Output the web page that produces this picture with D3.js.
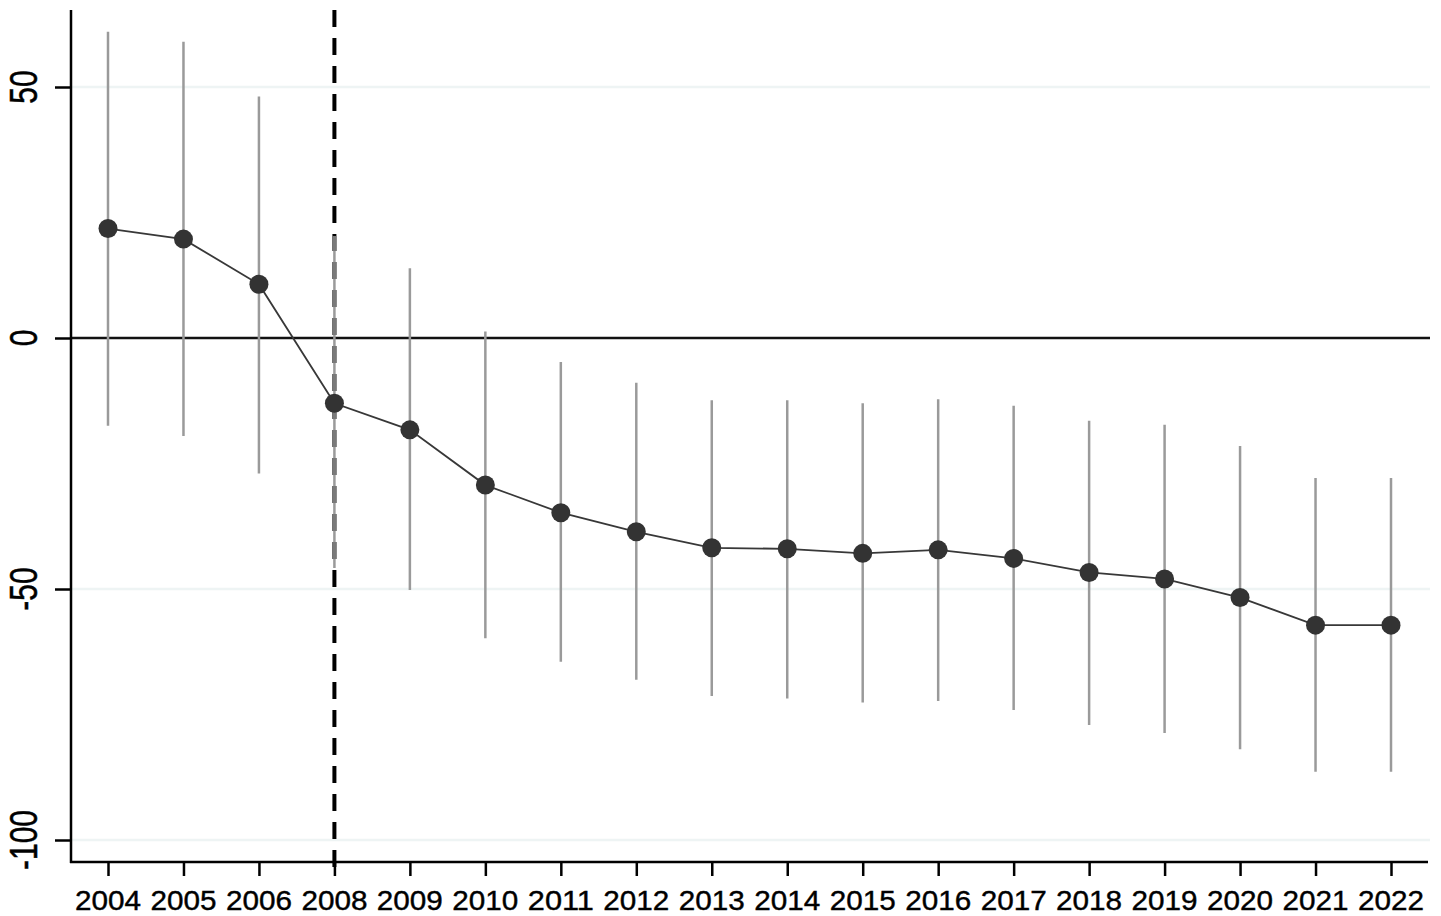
<!DOCTYPE html>
<html>
<head>
<meta charset="utf-8">
<script src="https://cdn.jsdelivr.net/npm/d3@7"></script>
<style>
  html, body { margin: 0; padding: 0; background: #fff; }
  svg { display: block; }
</style>
</head>
<body>
<svg id="chart" width="1441" height="916"></svg>
<script>
// ---- data ----
const years = ["2004","2005","2006","2008","2009","2010","2011","2012","2013","2014","2015","2016","2017","2018","2019","2020","2021","2022"];
const estimate = [21.8, 19.7, 10.7, -13.0, -18.3, -29.3, -34.8, -38.6, -41.8, -42.0, -42.9, -42.2, -43.9, -46.7, -48.0, -51.7, -57.2, -57.2];
const ciUpper  = [61.0, 59.0, 48.1, 20.3, 13.9, 1.3, -4.8, -8.9, -12.4, -12.4, -13.0, -12.2, -13.5, -16.5, -17.3, -21.5, -27.9, -27.9];
const ciLower  = [-17.5, -19.5, -27.0, -45.8, -50.2, -59.8, -64.5, -68.1, -71.3, -71.8, -72.6, -72.3, -74.1, -77.1, -78.7, -81.9, -86.4, -86.4];
const yTicks = [50, 0, -50, -100];
const eventYear = "2008";

// ---- layout ----
const svg = d3.select("#chart");
const axisX = 71, axisBottomY = 862, plotTop = 10, plotRight = 1428;

const x = d3.scalePoint().domain(years).range([108, 1391]);
const y = d3.scaleLinear().domain([-100, 50]).range([840, 87]);

const font = "'Liberation Sans', Arial, Helvetica, sans-serif";

// gridlines
svg.append("g").selectAll("line")
  .data(yTicks.filter(d => d !== 0))
  .join("line")
  .attr("x1", axisX).attr("x2", plotRight + 2)
  .attr("y1", d => y(d)).attr("y2", d => y(d))
  .attr("stroke", "#eef4f4").attr("stroke-width", 2.5);

// zero line
svg.append("line")
  .attr("x1", axisX).attr("x2", plotRight + 2)
  .attr("y1", y(0)).attr("y2", y(0))
  .attr("stroke", "#111").attr("stroke-width", 2.5);

// dashed event line (black)
const ex = x(eventYear);
const dashTop = plotTop, dashBottom = 876;
svg.append("line")
  .attr("x1", ex).attr("x2", ex).attr("y1", dashTop).attr("y2", dashBottom)
  .attr("stroke", "#000").attr("stroke-width", 4)
  .attr("stroke-dasharray", "17,11");

// CI lines
svg.append("g").selectAll("line")
  .data(years)
  .join("line")
  .attr("x1", d => x(d)).attr("x2", d => x(d))
  .attr("y1", (d, i) => y(ciUpper[i])).attr("y2", (d, i) => y(ciLower[i]))
  .attr("stroke", "#9a9a9a").attr("stroke-width", 2.5);

// gray overlay of dashed line where CI of event year crosses it
const ei = years.indexOf(eventYear);
svg.append("clipPath").attr("id", "ciClip")
  .append("rect")
  .attr("x", ex - 10).attr("width", 20)
  .attr("y", y(ciUpper[ei])).attr("height", y(ciLower[ei]) - y(ciUpper[ei]));
svg.append("line")
  .attr("clip-path", "url(#ciClip)")
  .attr("x1", ex).attr("x2", ex).attr("y1", dashTop).attr("y2", dashBottom)
  .attr("stroke", "#7a7a7a").attr("stroke-width", 4)
  .attr("stroke-dasharray", "17,11");

// connecting line
const line = d3.line().x((d, i) => x(years[i])).y(d => y(d));
svg.append("path")
  .datum(estimate)
  .attr("d", line)
  .attr("fill", "none").attr("stroke", "#383838").attr("stroke-width", 1.8);

// points
svg.append("g").selectAll("circle")
  .data(estimate)
  .join("circle")
  .attr("cx", (d, i) => x(years[i])).attr("cy", d => y(d))
  .attr("r", 9.5).attr("fill", "#333");

// y axis
const yAxis = svg.append("g")
  .attr("transform", `translate(${axisX},0)`)
  .call(d3.axisLeft(y).tickValues(yTicks).tickSize(16).tickFormat(""));
yAxis.select(".domain").remove();
yAxis.selectAll(".tick line").attr("stroke", "#000").attr("stroke-width", 2.5);
svg.append("line")
  .attr("x1", axisX).attr("x2", axisX).attr("y1", plotTop).attr("y2", axisBottomY + 1)
  .attr("stroke", "#000").attr("stroke-width", 2.5);

svg.append("g").selectAll("text")
  .data(yTicks)
  .join("text")
  .attr("transform", d => `translate(24,${y(d)}) scale(1.3,1) rotate(-90)`)
  .attr("text-anchor", "middle")
  .attr("dominant-baseline", "central")
  .attr("font-family", font)
  .attr("font-size", 30)
  .attr("fill", "#000")
  .attr("stroke", "#000").attr("stroke-width", 0.4)
  .text(d => d);

// x axis
const xAxis = svg.append("g")
  .attr("transform", `translate(0,${axisBottomY})`)
  .call(d3.axisBottom(x).tickSize(14).tickFormat(""));
xAxis.select(".domain").remove();
xAxis.selectAll(".tick line").attr("stroke", "#000").attr("stroke-width", 2.5);
svg.append("line")
  .attr("x1", axisX - 1).attr("x2", plotRight).attr("y1", axisBottomY).attr("y2", axisBottomY)
  .attr("stroke", "#000").attr("stroke-width", 2.5);

svg.append("g").selectAll("text")
  .data(years)
  .join("text")
  .attr("x", d => x(d))
  .attr("y", 910)
  .attr("text-anchor", "middle")
  .attr("font-family", font)
  .attr("font-size", 27)
  .attr("textLength", 66)
  .attr("lengthAdjust", "spacingAndGlyphs")
  .attr("fill", "#000")
  .attr("stroke", "#000").attr("stroke-width", 0.4)
  .text(d => d);
</script>
</body>
</html>
